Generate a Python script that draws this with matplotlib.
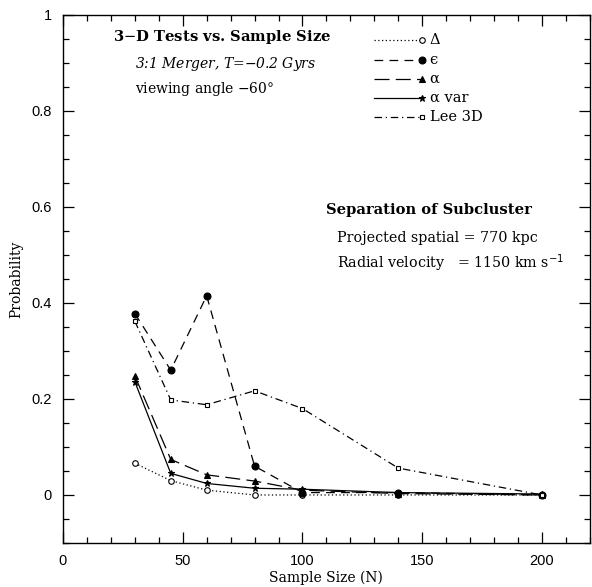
import matplotlib
matplotlib.use("Agg")
import matplotlib.pyplot as plt
from matplotlib.ticker import MultipleLocator

# sample sizes and detection probabilities for each 3-D test
N = [30, 45, 60, 80, 100, 140, 200]
p_delta = [0.066, 0.030, 0.010, 0.000, 0.000, 0.000, 0.000]
p_eps = [0.378, 0.260, 0.415, 0.060, 0.005, 0.005, 0.000]
p_alpha = [0.248, 0.074, 0.042, 0.029, 0.010, 0.003, 0.000]
p_alpha_var = [0.236, 0.045, 0.024, 0.014, 0.012, 0.005, 0.002]
p_lee = [0.362, 0.198, 0.188, 0.217, 0.180, 0.056, 0.000]

labels = ["Δ", "ϵ", "α", "α var", "Lee 3D"]

serif = "DejaVu Serif"
sans = "Liberation Sans"

fig = plt.figure(figsize=(5.92, 5.87), dpi=100)
ax = fig.add_axes([0.1064, 0.075, 0.890, 0.8995])

styles = [
    dict(ls=(0, (1, 2)), marker="o", mfc="white", ms=4),
    dict(ls=(0, (7, 5)), marker="o", mfc="black", ms=5),
    dict(ls=(0, (12, 5)), marker="^", mfc="black", ms=4),
    dict(ls="-", marker="*", mfc="black", ms=5),
    dict(ls=(0, (6, 3, 1, 3)), marker="s", mfc="white", ms=3.5),
]
series = [p_delta, p_eps, p_alpha, p_alpha_var, p_lee]

for ys, st in zip(series, styles):
    ax.plot(N, ys, color="black", lw=0.9, mec="black", mew=0.8, **st)

# hand-drawn key: short line segment with the marker at its right end
for i, (lab, st) in enumerate(zip(labels, styles)):
    yk = 0.952 - i * 0.0365
    ax.plot([0.591, 0.682], [yk, yk], color="black", lw=0.9,
            ls=st["ls"], transform=ax.transAxes)
    ax.plot([0.682], [yk], color="black", marker=st["marker"],
            mfc=st["mfc"], mec="black", mew=0.8, ms=st["ms"],
            transform=ax.transAxes)
    ax.text(0.696, yk, lab, transform=ax.transAxes, fontsize=10.5,
            family=serif, va="center", ha="left")

ax.text(0.095, 0.958, "3$-$D Tests vs. Sample Size", transform=ax.transAxes,
        fontsize=10.6, fontweight="bold", family=serif, va="center")
ax.text(0.137, 0.908, "3:1 Merger, T=$-$0.2 Gyrs", transform=ax.transAxes,
        fontsize=10, style="italic", family=serif, va="center")
ax.text(0.137, 0.860, "viewing angle $-$60°", transform=ax.transAxes,
        fontsize=10, family=serif, va="center")

ax.text(0.500, 0.631, "Separation of Subcluster", transform=ax.transAxes,
        fontsize=10.6, fontweight="bold", family=serif, va="center")
ax.text(0.520, 0.578, "Projected spatial = 770 kpc", transform=ax.transAxes,
        fontsize=10.3, family=serif, va="center")
ax.text(0.520, 0.530, "Radial velocity   = 1150 km s$^{-1}$",
        transform=ax.transAxes, fontsize=10.3, family=serif, va="center")

ax.set_xlim(0, 220)
ax.set_ylim(-0.1, 1.0)
ax.xaxis.set_major_locator(MultipleLocator(50))
ax.xaxis.set_minor_locator(MultipleLocator(10))
ax.yaxis.set_major_locator(MultipleLocator(0.2))
ax.yaxis.set_minor_locator(MultipleLocator(0.05))
ax.set_xticks([0, 50, 100, 150, 200])
ax.set_xticklabels(["0", "50", "100", "150", "200"])
ax.set_yticks([0, 0.2, 0.4, 0.6, 0.8, 1.0])
ax.set_yticklabels(["0", "0.2", "0.4", "0.6", "0.8", "1"])
ax.tick_params(which="both", direction="in", top=True, right=True,
               labelsize=10.5, width=0.9)
ax.tick_params(which="major", length=8, pad=8)
ax.tick_params(which="minor", length=4)
for t in ax.get_xticklabels() + ax.get_yticklabels():
    t.set_family(sans)

for sp in ax.spines.values():
    sp.set_linewidth(1.0)

ax.set_xlabel("Sample Size (N)", family=serif, fontsize=10, labelpad=2)
ax.set_ylabel("Probability", family=serif, fontsize=10, labelpad=6)

fig.savefig("out.png", dpi=100)
